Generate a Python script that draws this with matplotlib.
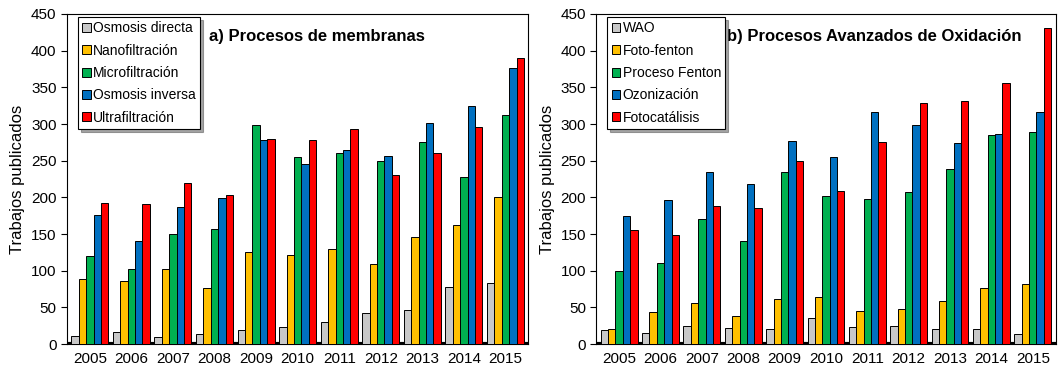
import numpy as np
import matplotlib.pyplot as plt

plt.rcParams['font.family'] = ['Liberation Sans', 'DejaVu Sans']

years = ['2005', '2006', '2007', '2008', '2009', '2010', '2011', '2012', '2013', '2014', '2015']

# a) membranas
osmosis_directa = [11, 16, 10, 14, 19, 23, 30, 42, 46, 78, 83]
nanofiltracion = [89, 86, 103, 76, 125, 122, 130, 109, 146, 163, 201]
microfiltracion = [120, 103, 150, 157, 298, 255, 261, 250, 276, 228, 312]
osmosis_inversa = [176, 141, 187, 199, 278, 246, 265, 256, 302, 325, 377]
ultrafiltracion = [193, 191, 220, 203, 279, 278, 293, 231, 261, 296, 390]

# b) oxidacion avanzada
wao = [19, 15, 24, 22, 21, 35, 23, 24, 20, 21, 14]
foto_fenton = [21, 44, 56, 38, 62, 64, 45, 48, 59, 76, 82]
proceso_fenton = [100, 110, 170, 141, 234, 202, 198, 208, 238, 285, 289]
ozonizacion = [175, 196, 234, 218, 277, 255, 317, 298, 274, 287, 316]
fotocatalisis = [155, 149, 188, 185, 249, 209, 276, 328, 332, 356, 431]

colores = ['#c8c8c8', '#ffc000', '#00b050', '#0070c0', '#ff0000']

panel_a = [('Osmosis directa', osmosis_directa), ('Nanofiltración', nanofiltracion),
           ('Microfiltración', microfiltracion), ('Osmosis inversa', osmosis_inversa),
           ('Ultrafiltración', ultrafiltracion)]
panel_b = [('WAO', wao), ('Foto-fenton', foto_fenton), ('Proceso Fenton', proceso_fenton),
           ('Ozonización', ozonizacion), ('Fotocatálisis', fotocatalisis)]

fig = plt.figure(figsize=(10.63, 3.68), dpi=100)
ax1 = fig.add_axes([0.063, 0.065, 0.434, 0.897])
ax2 = fig.add_axes([0.561, 0.065, 0.432, 0.897])

x = np.arange(len(years))
w = 0.178


def dibujar(ax, series, titulo, tx):
    for i, (nombre, vals) in enumerate(series):
        pos = x + (i - 2) * w
        ax.bar(pos, vals, w, color=colores[i], edgecolor='black', linewidth=0.7, label=nombre, zorder=3)
    # suelo negro
    ax.axhline(0, color='black', linewidth=3, zorder=2)
    ax.set_xlim(-0.55, 10.55)
    ax.set_ylim(0, 450)
    ax.set_yticks(range(0, 451, 50))
    ax.set_xticks(x)
    ax.set_xticklabels(years)
    ax.tick_params(axis='both', labelsize=11, length=4, width=0.8)
    ax.tick_params(axis='x', length=0, pad=6)
    ax.set_ylabel('Trabajos publicados', fontsize=12, labelpad=4)
    for s in ax.spines.values():
        s.set_linewidth(0.8)
    leg = ax.legend(loc='upper left', bbox_to_anchor=(0.024, 0.99), borderaxespad=0, fontsize=10,
                    frameon=True, fancybox=False, shadow=True, edgecolor='black', handlelength=0.6,
                    handleheight=0.6, handletextpad=0.2, labelspacing=0.6, borderpad=0.3)
    leg.get_frame().set_linewidth(0.8)
    ax.text(tx, 0.955, titulo, transform=ax.transAxes, fontsize=12, fontweight='bold', va='top')


dibujar(ax1, panel_a, 'a) Procesos de membranas', 0.308)
dibujar(ax2, panel_b, 'b) Procesos Avanzados de Oxidación', 0.285)

fig.savefig('out.png', dpi=100)
